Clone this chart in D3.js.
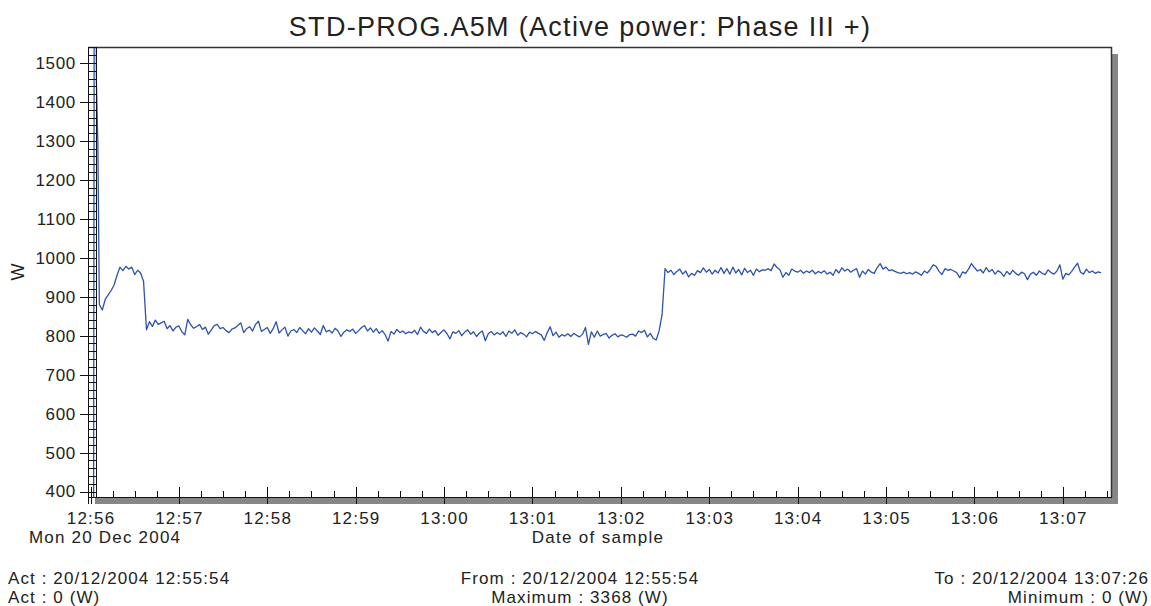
<!DOCTYPE html>
<html>
<head>
<meta charset="utf-8">
<title>STD-PROG.A5M</title>
<style>
  body { margin: 0; background: #fff; font-family: "Liberation Sans", Arial, sans-serif; }
  svg text { fill: #222; }
  .axis path, .axis line { stroke: #111; shape-rendering: crispEdges; }
</style>
</head>
<body>
<svg id="chart" width="1151" height="606"></svg>
<script src="https://cdn.jsdelivr.net/npm/d3@7/dist/d3.min.js"></script>
<script>
// start-up spike, seconds relative to 12:56:00
var spikeSec = [-6, 2, 3, 4, 5, 6];
var spikeW = [0, 0, 3368, 1450, 1290, 880];

// regular samples every 2 s from 12:56:08 to 13:07:26
var firstSec = 8, stepSec = 2;
var powerW = [
  866, 893, 905, 916, 930, 955, 976, 967, 978, 971, 976, 957, 968, 961, 940,
  815, 836, 824, 840, 829, 833, 837, 818, 826, 812, 822, 825, 810, 802, 842,
  828, 819, 823, 829, 816, 822, 804, 815, 826, 829, 818, 821, 813, 808, 817,
  820, 826, 833, 808, 818, 823, 812, 829, 837, 811, 816, 821, 806, 818, 836,
  807, 815, 822, 799, 812, 816, 808, 821, 813, 805, 818, 809, 820, 812, 803,
  826, 810, 814, 807, 819, 812, 798, 809, 815, 811, 817, 806, 813, 821, 826,
  812, 820, 809, 818, 806, 813, 803, 786, 811, 804, 816, 808, 812, 805, 810,
  807, 814, 803, 822, 811, 806, 817, 808, 813, 801, 809, 815, 805, 792, 810,
  806, 813, 800, 809, 815, 804, 810, 798, 807, 812, 787, 805, 811, 802, 808,
  803, 810, 798, 812, 806, 815, 801, 808, 804, 797, 809, 805, 811, 806, 802,
  788, 808, 823, 800, 809, 796, 803, 799, 805, 798, 806, 801, 797, 804, 821,
  778, 810, 796, 812, 799, 803, 806, 794, 801, 805, 797, 802, 800, 796, 803,
  804, 799, 812, 808, 814, 797, 806, 793, 789, 813, 855, 972, 962, 968, 957,
  965, 971, 958, 966, 951, 960, 955, 967, 962, 974, 963, 970, 958, 968, 961,
  975, 960, 972, 958, 976, 961, 970, 956, 973, 962, 968, 955, 971, 964, 969,
  968, 972, 967, 984, 975, 969, 950, 962, 955, 971, 966, 963, 968, 960, 966,
  962, 968, 959, 965, 961, 967, 958, 963, 955, 970, 961, 974, 966, 971, 963,
  968, 972, 950, 966, 958, 970, 963, 960, 975, 985, 971, 976, 967, 969, 965,
  962, 960, 963, 959, 962, 958, 964, 960, 955, 966, 961, 970, 982, 978, 965,
  957, 972, 968, 970, 966, 962, 949, 964, 960, 971, 985, 975, 966, 970, 961,
  975, 964, 970, 958, 967, 962, 952, 965, 957, 968, 960, 955, 963, 959, 944,
  958, 963, 955, 966, 960, 957, 969, 962, 958, 966, 982, 945, 960, 956, 965,
  976, 986, 963, 958, 971, 962, 966, 960, 964, 961
];

var yTicks = [400, 500, 600, 700, 800, 900, 1000, 1100, 1200, 1300, 1400, 1500];
var yDomain = [386, 1541];
var timeDomainSec = [-1.7, 692.7];

var titleText = "STD-PROG.A5M (Active power: Phase III +)";
var footLeft = ["Act : 20/12/2004 12:55:54", "Act : 0 (W)"];
var footMid = ["From : 20/12/2004 12:55:54", "Maximum : 3368 (W)"];
var footRight = ["To : 20/12/2004 13:07:26", "Minimum : 0 (W)"];

var base = new Date(2004, 11, 20, 12, 56, 0);
function at(sec) { return new Date(base.getTime() + sec * 1000); }

var data = [];
spikeSec.forEach(function(s, i) { data.push({t: at(s), v: spikeW[i]}); });
powerW.forEach(function(v, i) { data.push({t: at(firstSec + i * stepSec), v: v}); });

var pL = 88, pT = 47, pR = 1111, pB = 497;
var svg = d3.select("#chart");

var x = d3.scaleTime().domain(timeDomainSec.map(at)).range([pL, pR]);
var y = d3.scaleLinear().domain(yDomain).range([pB, pT]);

// shadow + plot area
svg.append("rect").attr("x", pL + 7).attr("y", pT + 7)
  .attr("width", pR - pL).attr("height", pB - pT).attr("fill", "#878787");
svg.append("rect").attr("x", pL).attr("y", pT)
  .attr("width", pR - pL).attr("height", pB - pT).attr("fill", "#fff");
svg.append("path")
  .attr("d", "M" + pL + "," + (pT + 0.5) + "H" + (pR + 0.5) + "V" + pB)
  .attr("fill", "none").attr("stroke", "#333").attr("stroke-width", 1.5);

svg.append("clipPath").attr("id", "clip").append("rect")
  .attr("x", pL).attr("y", pT).attr("width", pR - pL).attr("height", pB - pT);

var line = d3.line().x(function(d) { return x(d.t); }).y(function(d) { return y(d.v); });
svg.append("path").datum(data)
  .attr("clip-path", "url(#clip)")
  .attr("d", line)
  .attr("fill", "none")
  .attr("stroke", "#2f52b0")
  .attr("stroke-width", 1.3)
  .attr("stroke-linejoin", "round");

var font = "Liberation Sans, Arial, sans-serif";

// y axis: minor ladder + major ticks
var yMinor = svg.append("g").attr("class", "axis").attr("transform", "translate(" + pL + ",0)")
  .call(d3.axisLeft(y).tickValues(d3.range(400, yDomain[1], 20)).tickSize(-8).tickFormat(""));
yMinor.select(".domain").remove();
svg.append("line").attr("x1", pL + 8.5).attr("x2", pL + 8.5).attr("y1", pT).attr("y2", pB)
  .attr("stroke", "#111").attr("stroke-width", 1);

var yAxis = svg.append("g").attr("class", "axis").attr("transform", "translate(" + pL + ",0)")
  .call(d3.axisLeft(y).tickValues(yTicks).tickFormat(d3.format("d"))
    .tickSize(8).tickPadding(4).tickSizeOuter(0));
yAxis.selectAll(".tick line").attr("x1", 9);
yAxis.select(".domain").attr("d", "M0.5," + pT + "V" + (pB + 7)).attr("stroke-width", 1.5);
yAxis.selectAll("text").attr("font-size", 17).attr("font-family", font)
  .attr("fill", "#222").attr("letter-spacing", 0.7);

// x axis: minor + major ticks
var xMinor = svg.append("g").attr("class", "axis").attr("transform", "translate(0," + pB + ")")
  .call(d3.axisBottom(x).ticks(d3.timeSecond.every(15)).tickSize(-6).tickFormat(""));
xMinor.select(".domain").remove();

var xAxis = svg.append("g").attr("class", "axis").attr("transform", "translate(0," + pB + ")")
  .call(d3.axisBottom(x).ticks(d3.timeMinute.every(1)).tickFormat(d3.timeFormat("%H:%M"))
    .tickSize(7).tickPadding(8).tickSizeOuter(0));
xAxis.selectAll(".tick line").attr("y1", -10);
xAxis.select(".domain").attr("stroke-width", 1.5);
xAxis.selectAll("text").attr("font-size", 17).attr("font-family", font)
  .attr("fill", "#222").attr("letter-spacing", 1.2);

// labels
svg.append("text").attr("x", 580).attr("y", 36).attr("text-anchor", "middle")
  .attr("font-size", 27).attr("letter-spacing", 1.3).text(titleText);
svg.append("text").attr("transform", "translate(24,272) rotate(-90)").attr("text-anchor", "middle")
  .attr("font-size", 18).text("W");
svg.append("text").attr("x", 29).attr("y", 543).attr("font-size", 17).attr("letter-spacing", 1.2)
  .text(d3.timeFormat("%a %d %b %Y")(base));
svg.append("text").attr("x", 598).attr("y", 543).attr("text-anchor", "middle")
  .attr("font-size", 17).attr("letter-spacing", 1.3).text("Date of sample");

function foot(lines, xPos, anchor) {
  svg.selectAll(null).data(lines).enter().append("text")
    .attr("x", xPos).attr("y", function(d, i) { return 584 + i * 19; })
    .attr("text-anchor", anchor).attr("font-size", 17).attr("letter-spacing", 1.1)
    .text(function(d) { return d; });
}
foot(footLeft, 8, "start");
foot(footMid, 580, "middle");
foot(footRight, 1149, "end");
</script>
</body>
</html>
